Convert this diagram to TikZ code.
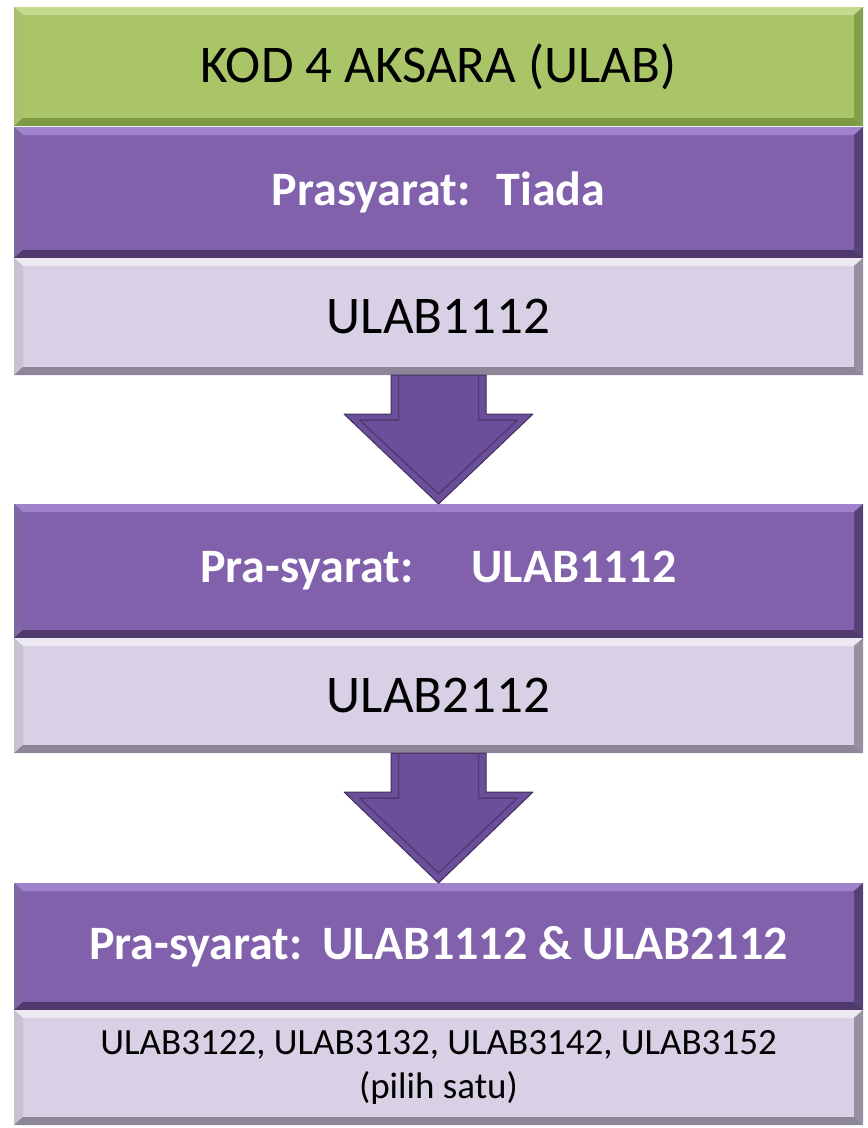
\documentclass[tikz,border=0pt]{standalone}
\usepackage{fontspec}
\setmainfont{Carlito}
\usetikzlibrary{calc}
\definecolor{hijau}{HTML}{A9C567}
\definecolor{hijauT}{HTML}{C4DA8E}
\definecolor{hijauG}{HTML}{7E9A45}
\definecolor{ungu}{HTML}{8160AC}
\definecolor{unguT}{HTML}{A083CC}
\definecolor{unguG}{HTML}{4E3B6C}
\definecolor{lembut}{HTML}{D8D0E5}
\definecolor{lembutT}{HTML}{EEEAF4}
\definecolor{lembutG}{HTML}{8D8698}
\definecolor{panahC}{HTML}{6C4F9A}
% bevel round a box: node, light colour, dark colour
\newcommand\bevel[3]{
  \fill[#2] (#1.north west) -- (#1.north east) -- ($(#1.north east)+(-9,8)$) -- ($(#1.north west)+(9,8)$) -- cycle;
  \fill[#2!60!#3] (#1.north west) -- ($(#1.north west)+(9,8)$) -- ($(#1.south west)+(9,-8)$) -- (#1.south west) -- cycle;
  \fill[#3] (#1.south west) -- (#1.south east) -- ($(#1.south east)+(-9,-8)$) -- ($(#1.south west)+(9,-8)$) -- cycle;
  \fill[#3!90!#2] (#1.north east) -- (#1.south east) -- ($(#1.south east)+(-9,-8)$) -- ($(#1.north east)+(-9,8)$) -- cycle;
}
% block arrow from one box down to the next
\newcommand\panah[2]{
  \draw[panahC!60!black, fill=panahC, line width=1pt] ($(#1.south)+(-47.5,0)$) -- ++(95,0) -- ++(0,39) -- ++(47,0)
    -- (#2.north) -- ($(#1.south)+(-94.5,39)$) -- ++(47,0) -- cycle;
  \draw[panahC!75!black, line width=1.5pt] ($(#1.south)+(-40,0)$) -- ++(0,45) -- ++(-39,0)
    -- ($(#2.north)+(0,-10)$) -- ($(#1.south)+(79,45)$) -- ++(-39,0) -- ++(0,-45);
}
\begin{document}
\begin{tikzpicture}[x=1pt, y=-1pt, line join=round,
  kotak/.style={minimum width=849pt, inner sep=0pt, outer sep=0pt, align=center},
  judul/.style={kotak, fill=hijau, font=\fontsize{53}{60}\selectfont},
  syarat/.style={kotak, fill=ungu, text=white, font=\fontsize{48}{56}\selectfont\bfseries},
  kursus/.style={kotak, fill=lembut, font=\fontsize{53}{60}\selectfont}]
\useasboundingbox (0,0) rectangle (868,1128);
\node[judul, minimum height=119pt] (J) at (438.5,66.5) {KOD 4 AKSARA (ULAB)};
\node[syarat, minimum height=131pt] (S1) at (438.5,192.5) {Prasyarat:\hspace{26pt}Tiada};
\node[kursus, minimum height=117pt] (K1) at (438.5,316.5) {ULAB1112};
\node[syarat, minimum height=134pt] (S2) at (438.5,571) {Pra-syarat:\hspace{58pt}ULAB1112};
\node[kursus, minimum height=115pt] (K2) at (438.5,695.5) {ULAB2112};
\node[syarat, minimum height=127pt] (S3) at (438.5,946.5) {Pra-syarat:\hspace{20pt}ULAB1112 \& ULAB2112};
\node[kursus, minimum height=115pt, font=\fontsize{37}{44}\selectfont] (K3) at (438.5,1067.5)
  {ULAB3122, ULAB3132, ULAB3142, ULAB3152\\(pilih satu)};
\foreach \n/\t/\g in {J/hijauT/hijauG, S1/unguT/unguG, K1/lembutT/lembutG,
  S2/unguT/unguG, K2/lembutT/lembutG, S3/unguT/unguG, K3/lembutT/lembutG}{
  \bevel{\n}{\t}{\g}}
\panah{K1}{S2}
\panah{K2}{S3}
\end{tikzpicture}
\end{document}
